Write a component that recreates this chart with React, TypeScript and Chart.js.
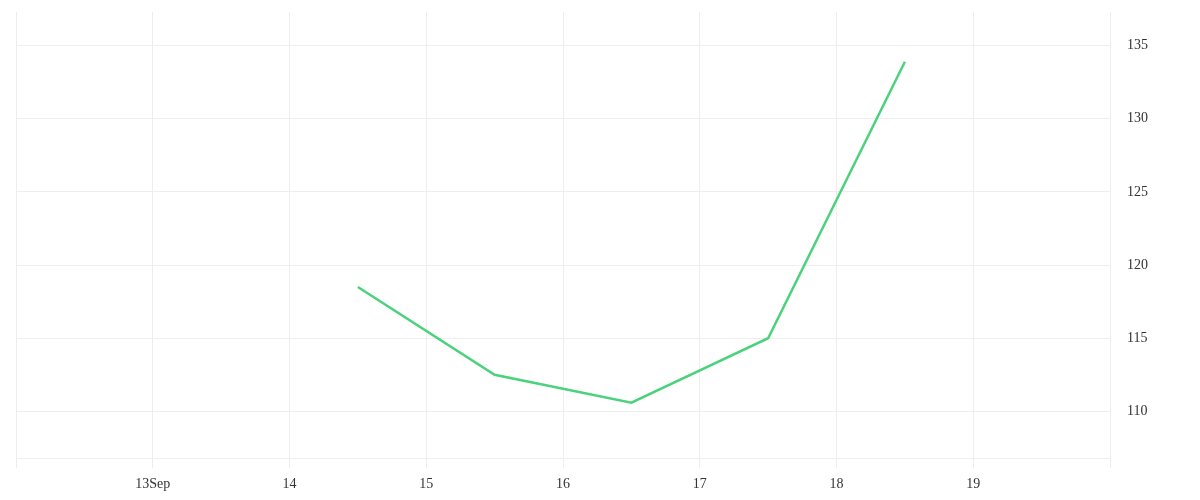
import React, { useEffect, useRef } from 'react';
import Chart from 'chart.js/auto';

// days of September (x = 14.5 means noon on the 14th)
const days = [14.5, 15.5, 16.5, 17.5, 18.5];
const values = [118.5, 112.5, 110.6, 115, 133.9];
const yTicks = [110, 115, 120, 125, 130, 135];

const FONT = { family: '"Liberation Serif", serif', size: 14 };

const App: React.FC = () => {
  const chartRef = useRef<HTMLCanvasElement>(null);

  useEffect(() => {
    if (chartRef.current) {
      const myChart = new Chart(chartRef.current, {
        type: 'line',
        data: {
          datasets: [
            {
              label: 'Price',
              data: days.map((d, i) => ({ x: d, y: values[i] })),
              borderColor: '#4cd17d',
              borderWidth: 2.5,
              pointRadius: 0,
              fill: false,
              tension: 0
            }
          ]
        },
        options: {
          responsive: true,
          maintainAspectRatio: false,
          animation: false,
          layout: {
            padding: { left: 5, right: 44, top: 4, bottom: -9 }
          },
          scales: {
            x: {
              type: 'linear',
              min: 12,
              max: 20,
              grid: { color: '#eeeeee', tickLength: 10 },
              border: { color: '#eeeeee' },
              ticks: {
                stepSize: 1,
                padding: 8,
                color: '#333',
                maxRotation: 0,
                font: FONT,
                callback: (v: any) => {
                  if (v === 12 || v === 20) return '';
                  return v === 13 ? '13Sep' : String(v);
                }
              }
            },
            y: {
              position: 'right',
              min: 106.8,
              max: 137.3,
              afterBuildTicks: (axis: any) => {
                axis.ticks = yTicks.map((v) => ({ value: v }));
              },
              grid: { color: '#eeeeee', tickLength: 17, tickColor: 'rgba(0,0,0,0)' },
              border: { display: false },
              ticks: {
                padding: 0,
                color: '#333',
                font: { ...FONT, lineHeight: 0.3 }
              }
            }
          },
          plugins: {
            legend: { display: false },
            tooltip: { enabled: false }
          }
        }
      });

      return () => {
        myChart.destroy();
      };
    }
  }, []);

  return (
    <div style={{ height: 484 }}>
      <canvas ref={chartRef} />
    </div>
  );
};

export default App;
